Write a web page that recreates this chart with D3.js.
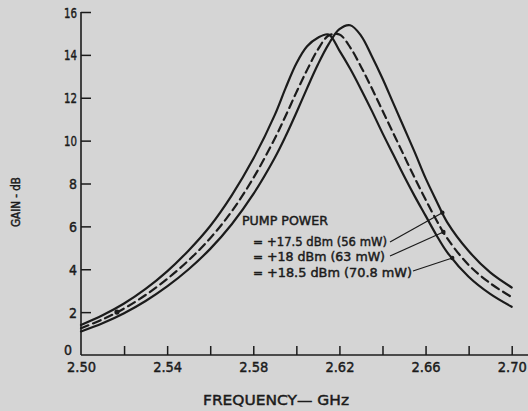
<!DOCTYPE html>
<html>
<head>
<meta charset="utf-8">
<script src="https://cdn.jsdelivr.net/npm/d3@7"></script>
<style>
  html, body { margin: 0; padding: 0; background: #d5d5d5; }
  svg { display: block; }
  text { font-family: "DejaVu Sans", sans-serif; fill: #1b1b1b; stroke: #1b1b1b; stroke-width: 0.45px; }
</style>
</head>
<body>
<svg id="chart" width="528" height="411"></svg>
<script>
// Frequency samples (GHz) shared by the three gain curves
const freq = [2.50, 2.51, 2.52, 2.53, 2.54, 2.55, 2.56, 2.57, 2.58, 2.59,
              2.595, 2.60, 2.605, 2.61, 2.615, 2.62, 2.625, 2.63, 2.635, 2.64,
              2.645, 2.65, 2.655, 2.66, 2.665, 2.67, 2.68, 2.69, 2.70];

// Gain (dB) for each pump power
const gain175 = [1.10, 1.48, 1.95, 2.52, 3.20, 4.00, 4.95, 6.10, 7.50, 9.20,
                 10.20, 11.30, 12.45, 13.55, 14.50, 15.20, 15.38, 14.90, 13.95, 12.90,
                 11.75, 10.60, 9.45, 8.25, 7.20, 6.20, 4.85, 3.85, 3.15];
const gain180 = [1.25, 1.66, 2.17, 2.80, 3.55, 4.42, 5.45, 6.70, 8.25, 10.10,
                 11.15, 12.25, 13.30, 14.25, 14.90, 14.95, 14.35, 13.45, 12.45, 11.40,
                 10.35, 9.30, 8.25, 7.25, 6.30, 5.45, 4.20, 3.35, 2.70];
const gain185 = [1.40, 1.85, 2.40, 3.08, 3.90, 4.88, 6.02, 7.45, 9.15, 11.20,
                 12.45, 13.60, 14.40, 14.80, 14.95, 14.20, 13.35, 12.40, 11.40, 10.35,
                 9.35, 8.35, 7.40, 6.50, 5.60, 4.80, 3.65, 2.85, 2.25];

// Legend entries and the frequency where each leader meets its curve
const legendLabels = ["+17.5 dBm (56 mW)", "+18 dBm (63 mW)", "+18.5 dBm (70.8 mW)"];
const leaderFreq = [2.6678, 2.6683, 2.6724];

// Axis ticks
const xTicks = [2.50, 2.52, 2.54, 2.56, 2.58, 2.60, 2.62, 2.64, 2.66, 2.68, 2.70];
const xLabelTicks = [2.50, 2.54, 2.58, 2.62, 2.66, 2.70];
const yTicks = [0, 2, 4, 6, 8, 10, 12, 14, 16];

const svg = d3.select("#chart");
const ink = "#1b1b1b";

const x = d3.scaleLinear().domain([2.50, 2.70]).range([81, 511.7]);
const y = d3.scaleLinear().domain([0, 16]).range([355, 12]);

// Axis lines
svg.append("line").attr("x1", x(2.50)).attr("x2", x(2.708))
  .attr("y1", y(0)).attr("y2", y(0)).attr("stroke", ink).attr("stroke-width", 1.6);
svg.append("line").attr("x1", x(2.50)).attr("x2", x(2.50))
  .attr("y1", y(0)).attr("y2", y(16)).attr("stroke", ink).attr("stroke-width", 1.6);

// Y axis: ticks point into the plot
const yAxis = d3.axisLeft(y).tickValues(yTicks).tickSizeInner(-10).tickSizeOuter(0)
  .tickPadding(5).tickFormat(d3.format("d"));
const gy = svg.append("g").attr("transform", `translate(${x(2.50)},0)`).call(yAxis);
gy.select(".domain").remove();
gy.selectAll(".tick line").attr("stroke", ink).attr("stroke-width", 1.5)
  .filter(d => d === 0).remove();
gy.selectAll(".tick text").attr("font-size", 14).attr("fill", ink)
  .style("font-family", '"DejaVu Sans", sans-serif')
  .attr("textLength", d => d >= 10 ? 13 : 8).attr("lengthAdjust", "spacingAndGlyphs")
  .attr("x", d => d === 0 ? -9 : -4)
  .attr("dy", d => d === 0 ? "-0.05em" : "0.36em");

// X axis: ticks point up, labels on every other tick
const xAxis = d3.axisBottom(x).tickValues(xTicks).tickSizeInner(-9).tickSizeOuter(0)
  .tickPadding(17)
  .tickFormat(d => xLabelTicks.some(v => Math.abs(v - d) < 1e-9) ? d3.format(".2f")(d) : "");
const gx = svg.append("g").attr("transform", `translate(0,${y(0)})`).call(xAxis);
gx.select(".domain").remove();
gx.selectAll(".tick line").attr("stroke", ink).attr("stroke-width", 1.5)
  .filter(d => d === 2.50).remove();
gx.selectAll(".tick text").attr("font-size", 14).attr("fill", ink)
  .style("font-family", '"DejaVu Sans", sans-serif')
  .attr("dy", "0")
  .each(function (d) { if (this.textContent) d3.select(this).attr("textLength", 29).attr("lengthAdjust", "spacingAndGlyphs"); });

// Axis titles
svg.append("text").attr("x", 276).attr("y", 405).attr("text-anchor", "middle")
  .attr("font-size", 14.5).attr("textLength", 146).attr("lengthAdjust", "spacingAndGlyphs")
  .text("FREQUENCY\u2014 GHz");
svg.append("text").attr("transform", "translate(20,202) rotate(-90)")
  .attr("text-anchor", "middle").attr("font-size", 12)
  .attr("textLength", 50).attr("lengthAdjust", "spacingAndGlyphs")
  .text("GAIN  -  dB");

// Gain curves
const series = [
  { values: gain175, dash: null },
  { values: gain180, dash: "8,5" },
  { values: gain185, dash: null }
];
const line = d3.line().x(d => x(d[0])).y(d => y(d[1])).curve(d3.curveCatmullRom.alpha(0.5));
series.forEach(s => {
  svg.append("path")
    .datum(freq.map((f, i) => [f, s.values[i]]))
    .attr("d", line)
    .attr("fill", "none")
    .attr("stroke", ink)
    .attr("stroke-width", 2.2)
    .attr("stroke-linecap", "round")
    .attr("stroke-dasharray", s.dash);
});

// Gain of a curve at a given frequency (linear between samples)
function gainAt(values, f) {
  const i = Math.max(1, d3.bisectLeft(freq, f));
  const t = (f - freq[i - 1]) / (freq[i] - freq[i - 1]);
  return values[i - 1] + t * (values[i] - values[i - 1]);
}

// Marker on the dashed curve near the low end
svg.append("circle").attr("cx", x(2.5167)).attr("cy", y(gainAt(gain180, 2.5167)))
  .attr("r", 2.6).attr("fill", ink);

// Legend
svg.append("text").attr("x", 242).attr("y", 225).attr("font-size", 12)
  .attr("textLength", 86).attr("lengthAdjust", "spacingAndGlyphs").text("PUMP POWER");
const rowY = [246, 261, 277];
const rowLen = [120, 118, 145];
const leaderStart = [[390, 242], [390, 256], [413, 271]];
legendLabels.forEach((lbl, i) => {
  svg.append("text").attr("x", 253).attr("y", rowY[i]).attr("font-size", 12).text("=");
  svg.append("text").attr("x", 267).attr("y", rowY[i]).attr("font-size", 12)
    .attr("textLength", rowLen[i]).attr("lengthAdjust", "spacingAndGlyphs").text(lbl);
  const vals = [gain175, gain180, gain185][i];
  const ex = x(leaderFreq[i]), ey = y(gainAt(vals, leaderFreq[i]));
  svg.append("line").attr("x1", leaderStart[i][0]).attr("y1", leaderStart[i][1])
    .attr("x2", ex).attr("y2", ey).attr("stroke", ink).attr("stroke-width", 1.2);
  svg.append("circle").attr("cx", ex).attr("cy", ey).attr("r", 2.2).attr("fill", ink);
});
</script>
</body>
</html>
